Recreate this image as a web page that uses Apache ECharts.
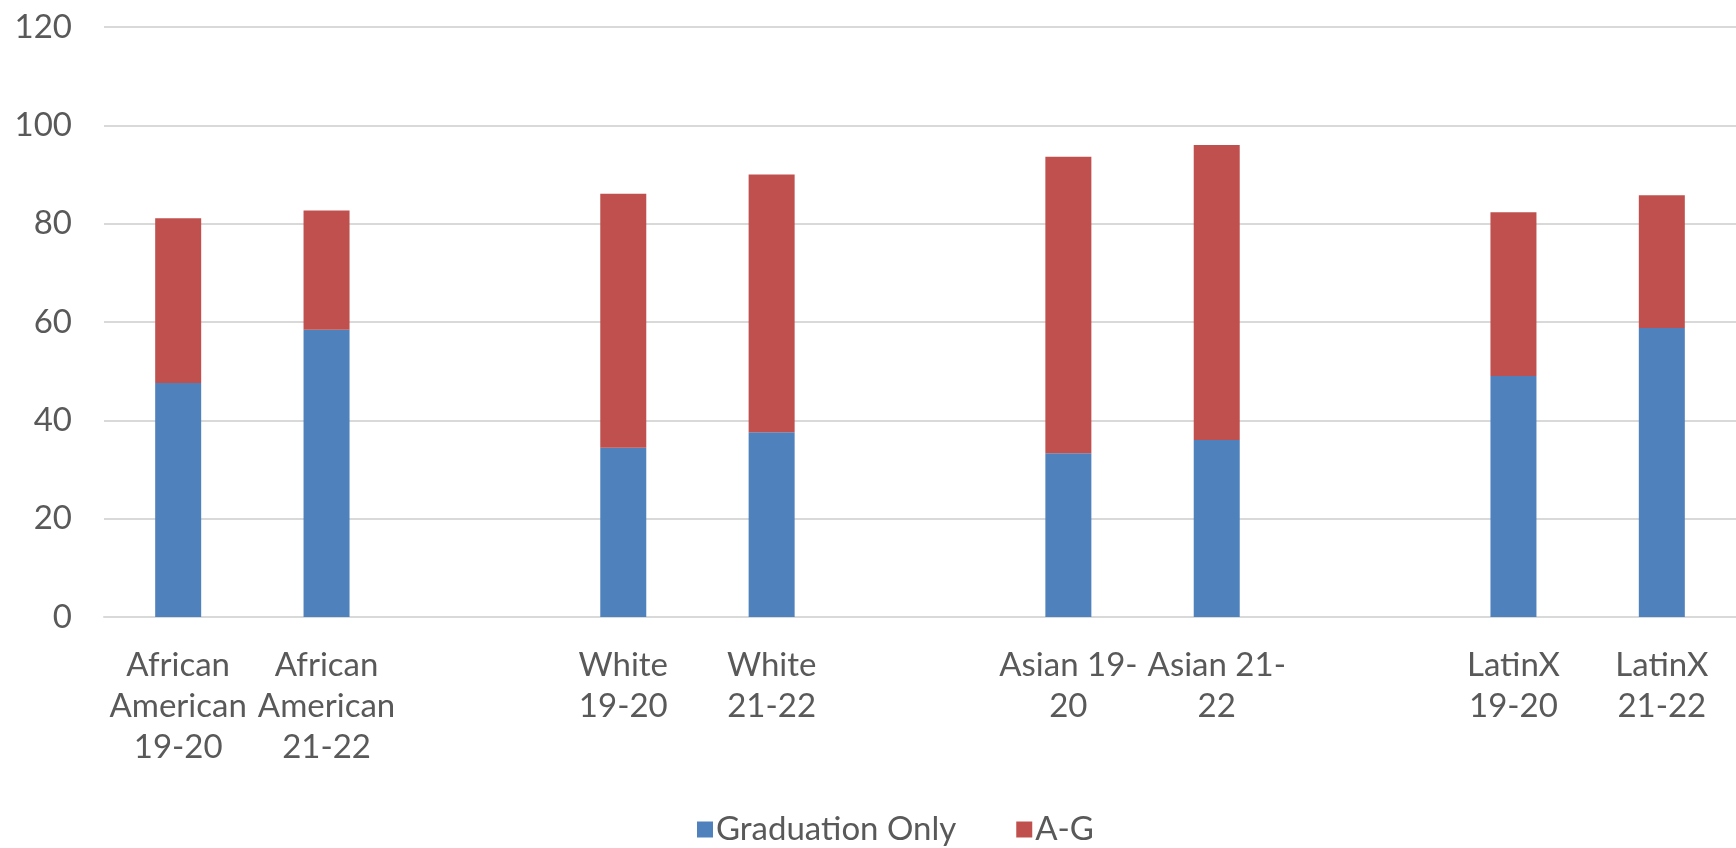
<!DOCTYPE html>
<html>
<head>
<meta charset="utf-8">
<style>
  html, body { margin: 0; padding: 0; background: #ffffff; }
  #chart { width: 1736px; height: 848px; }
</style>
<script src="https://cdn.jsdelivr.net/npm/echarts@6/dist/echarts.min.js"></script>
</head>
<body>
<div id="chart"></div>
<script>
const categories = [
  'African\nAmerican\n19-20', 'African\nAmerican\n21-22', '',
  'White\n19-20', 'White\n21-22', '',
  'Asian 19-\n20', 'Asian 21-\n22', '',
  'LatinX\n19-20', 'LatinX\n21-22'
];
const graduationOnly = [47.6, 58.4, null, 34.4, 37.6, null, 33.3, 36.0, null, 49.0, 58.8];
const aG = [33.5, 24.3, null, 51.7, 52.4, null, 60.3, 60.0, null, 33.3, 27.0];
const yTicks = { min: 0, max: 120, interval: 20 };
const seriesNames = ['Graduation Only', 'A-G'];

const FONT = 'Lato';
const TEXT = '#595959';
const GRID = '#D9D9D9';

const chart = echarts.init(document.getElementById('chart'));
chart.setOption({
  animation: false,
  textStyle: { fontFamily: FONT },
  grid: { left: 104, right: -4, top: 27, bottom: 231, containLabel: false },
  legend: {
    data: seriesNames,
    left: 692,
    top: 808,
    icon: 'rect',
    itemWidth: 16,
    itemHeight: 16,
    itemGap: 60,
    textStyle: { fontFamily: FONT, fontSize: 33, color: TEXT, padding: [0, 0, 0, -2] }
  },
  xAxis: {
    type: 'category',
    data: categories,
    axisLine: { show: true, lineStyle: { color: GRID, width: 2 } },
    axisTick: { show: false },
    axisLabel: {
      interval: 0,
      margin: 28,
      color: TEXT,
      fontFamily: FONT,
      fontSize: 33,
      lineHeight: 41
    }
  },
  yAxis: {
    type: 'value',
    min: yTicks.min,
    max: yTicks.max,
    interval: yTicks.interval,
    axisLine: { show: false },
    axisTick: { show: false },
    splitLine: { lineStyle: { color: GRID, width: 2 } },
    axisLabel: { color: TEXT, fontFamily: FONT, fontSize: 33, margin: 32 }
  },
  series: [
    {
      name: seriesNames[0],
      type: 'bar',
      stack: 'total',
      data: graduationOnly,
      barWidth: 46,
      itemStyle: { color: '#4F81BD' }
    },
    {
      name: seriesNames[1],
      type: 'bar',
      stack: 'total',
      data: aG,
      barWidth: 46,
      itemStyle: { color: '#C0504D' }
    }
  ]
});
</script>
</body>
</html>
